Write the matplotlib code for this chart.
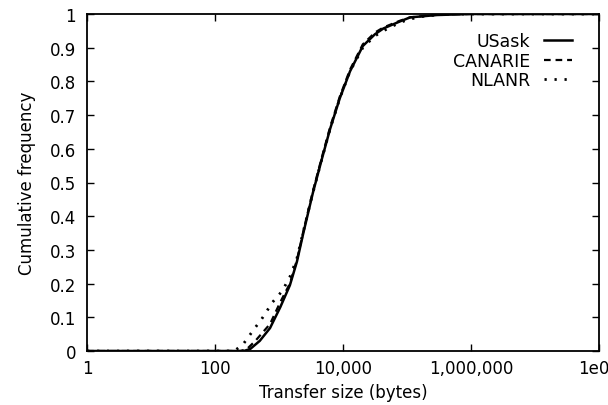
import matplotlib
matplotlib.use("Agg")
import matplotlib.pyplot as plt
from matplotlib.ticker import FixedLocator, FixedFormatter, NullLocator

# ---- data (transfer size in bytes, cumulative frequency) ----
usask_x = [1, 200, 282, 355, 500, 724, 1047, 1479, 1905, 2400, 3390, 4677, 6310,
           8913, 12882, 20400, 31600, 42700, 77600, 112000, 295000, 1000000, 1e8]
usask_y = [0, 0, 0, 0.006, 0.03, 0.068, 0.13, 0.195, 0.265, 0.35, 0.47, 0.57, 0.66,
           0.75, 0.83, 0.905, 0.94, 0.957, 0.978, 0.99, 0.997, 1.0, 1.0]

canarie_x = [1, 200, 251, 316, 427, 724, 1047, 1479, 1905, 2400, 3390, 4677, 6310,
             8913, 12882, 20400, 31600, 42700, 77600, 112000, 295000, 1000000, 1e8]
canarie_y = [0, 0, 0, 0.006, 0.03, 0.08, 0.145, 0.2, 0.27, 0.355, 0.475, 0.575, 0.665,
             0.755, 0.835, 0.91, 0.945, 0.96, 0.98, 0.99, 0.998, 1.0, 1.0]

nlanr_x = [1, 150, 200, 275, 427, 537, 794, 1122, 1479, 1905, 2400, 3390, 4677, 6310,
           8913, 12882, 20400, 31600, 42700, 77600, 112000, 200000, 500000, 1e8]
nlanr_y = [0, 0, 0, 0.02, 0.07, 0.095, 0.145, 0.178, 0.22, 0.275, 0.355, 0.47, 0.57, 0.66,
           0.75, 0.83, 0.9, 0.935, 0.95, 0.975, 0.985, 0.995, 1.0, 1.0]

series_names = ["USask", "CANARIE", "NLANR"]

x_ticks = [1, 100, 1e4, 1e6, 1e8]
x_tick_labels = ["1", "100", "10,000", "1,000,000", "1e08"]
y_ticks = [0, 0.1, 0.2, 0.3, 0.4, 0.5, 0.6, 0.7, 0.8, 0.9, 1.0]
y_tick_labels = ["0", "0.1", "0.2", "0.3", "0.4", "0.5", "0.6", "0.7", "0.8", "0.9", "1"]

plt.rcParams['font.family'] = ['DejaVu Sans']

fig = plt.figure(figsize=(6.08, 4.06), dpi=100)
ax = fig.add_axes([87/608, 54/406, 512/608, 337/406])

ax.plot(usask_x, usask_y, color='black', lw=1.8, linestyle='-', label=series_names[0])
ax.plot(canarie_x, canarie_y, color='black', lw=1.6, linestyle=(0, (3.0, 2.2)), label=series_names[1])
ax.plot(nlanr_x, nlanr_y, color='black', lw=2.0, linestyle=(0, (0.8, 2.8)), label=series_names[2])

ax.set_xscale('log')
ax.set_xlim(1, 1e8)
ax.set_ylim(0, 1)
ax.xaxis.set_major_locator(FixedLocator(x_ticks))
ax.xaxis.set_major_formatter(FixedFormatter(x_tick_labels))
ax.xaxis.set_minor_locator(NullLocator())
ax.yaxis.set_major_locator(FixedLocator(y_ticks))
ax.yaxis.set_major_formatter(FixedFormatter(y_tick_labels))

ax.tick_params(axis='both', which='major', direction='in', length=5, width=1,
               top=True, right=True, labelsize=12, colors='black')
ax.tick_params(axis='y', pad=8)
ax.tick_params(axis='x', pad=6)
for s in ax.spines.values():
    s.set_linewidth(1.3)

ax.set_xlabel("Transfer size (bytes)", fontsize=12, labelpad=4)
ax.set_ylabel("Cumulative frequency", fontsize=12, labelpad=10)

leg = ax.legend(loc='upper right', frameon=False, markerfirst=False, fontsize=12.5,
                handlelength=1.6, handletextpad=0.8, labelspacing=0.1,
                borderpad=0, borderaxespad=0,
                bbox_to_anchor=((572 - 87) / 512, (352 - 33) / 337))

fig.savefig("out.png", dpi=100)
